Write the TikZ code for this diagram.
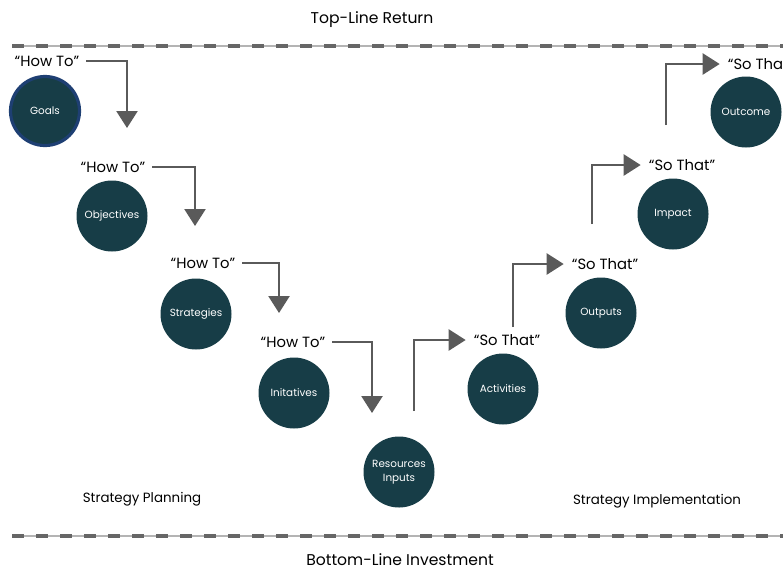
\documentclass[tikz,border=0pt]{standalone}
\usepackage{fontspec}
\setmainfont{Poppins}
\usetikzlibrary{arrows.meta}
\definecolor{stepfill}{HTML}{173D47}
\definecolor{goalring}{HTML}{1E3F73}
\definecolor{arrowgray}{HTML}{5A5A5A}
\definecolor{dashgray}{HTML}{666666}
\definecolor{railgray}{HTML}{B4B4B4}
\begin{document}
\begin{tikzpicture}[
    x=1pt, y=-1pt,
    stage/.style={circle, fill=stepfill, minimum size=71pt, inner sep=0pt, text=white, font=\fontsize{10.4}{13.5}\selectfont, align=center},
    cue/.style={font=\fontsize{14.8}{16}\selectfont, inner sep=0pt},
    heading/.style={font=\fontsize{15.6}{17}\selectfont, inner sep=0pt},
    side/.style={font=\fontsize{13.4}{15}\selectfont, inner sep=0pt},
    flow/.style={-{Triangle[length=17pt, width=21pt]}, line width=2.4pt, draw=arrowgray},
    rail/.style={line width=1.2pt, draw=railgray},
    raildash/.style={line width=4.5pt, draw=dashgray, dash pattern=on 12pt off 12pt}
]
    \useasboundingbox (0,0) rectangle (783,571);

    % Top and bottom lines
    \node[heading] (top) at (372,20) {Top-Line Return};
    \node[heading] (bottom) at (400,560) {Bottom-Line Investment};
    \coordinate (topL) at (12,46);
    \coordinate (topR) at (783,46);
    \coordinate (botL) at (12,536);
    \coordinate (botR) at (783,536);
    \draw[rail] (topL) -- (topR);
    \draw[raildash] (topL) -- (topR);
    \draw[rail] (botL) -- (botR);
    \draw[raildash] (botL) -- (botR);

    % Stages
    \node[stage, draw=goalring, line width=3.2pt, minimum size=69pt] (goals) at (45,111) {Goals};
    \node[stage] (objectives) at (112,216) {Objectives};
    \node[stage] (strategies) at (196,314) {Strategies};
    \node[stage] (initatives) at (294,393) {Initatives};
    \node[stage] (resources) at (399,472) {Resources\\Inputs};
    \node[stage] (activities) at (503,389) {Activities};
    \node[stage] (outputs) at (601,313) {Outputs};
    \node[stage] (impact) at (673,214) {Impact};
    \node[stage] (outcome) at (746,112) {Outcome};

    % Cues
    \node[cue] (how1) at (47,61) {``How To''};
    \node[cue] (how2) at (113,167) {``How To''};
    \node[cue] (how3) at (203,263) {``How To''};
    \node[cue] (how4) at (293,342) {``How To''};
    \node[cue] (so1) at (507,340) {``So That''};
    \node[cue] (so2) at (605,264) {``So That''};
    \node[cue] (so3) at (682,165) {``So That''};
    \node[cue] (so4) at (761,64) {``So That''};

    % Arrows down
    \coordinate (d1) at (127,128);
    \coordinate (d2) at (195,226);
    \coordinate (d3) at (279,313);
    \coordinate (d4) at (372,413);
    \draw[flow] ([xshift=7pt]how1.east) -| (d1);
    \draw[flow] ([xshift=7pt]how2.east) -| (d2);
    \draw[flow] ([xshift=7pt]how3.east) -| (d3);
    \draw[flow] ([xshift=7pt]how4.east) -| (d4);

    % Arrows up
    \coordinate (u1) at (414,411);
    \coordinate (u2) at (513,327);
    \coordinate (u3) at (592,224);
    \coordinate (u4) at (666,125);
    \draw[flow] (u1) |- ([xshift=-8pt]so1.west);
    \draw[flow] (u2) |- ([xshift=-8pt]so2.west);
    \draw[flow] (u3) |- ([xshift=-8pt]so3.west);
    \draw[flow] (u4) |- ([xshift=-8pt]so4.west);

    % Sides
    \node[side] (planning) at (142,499) {Strategy Planning};
    \node[side] (implementation) at (657,501) {Strategy Implementation};
\end{tikzpicture}
\end{document}
